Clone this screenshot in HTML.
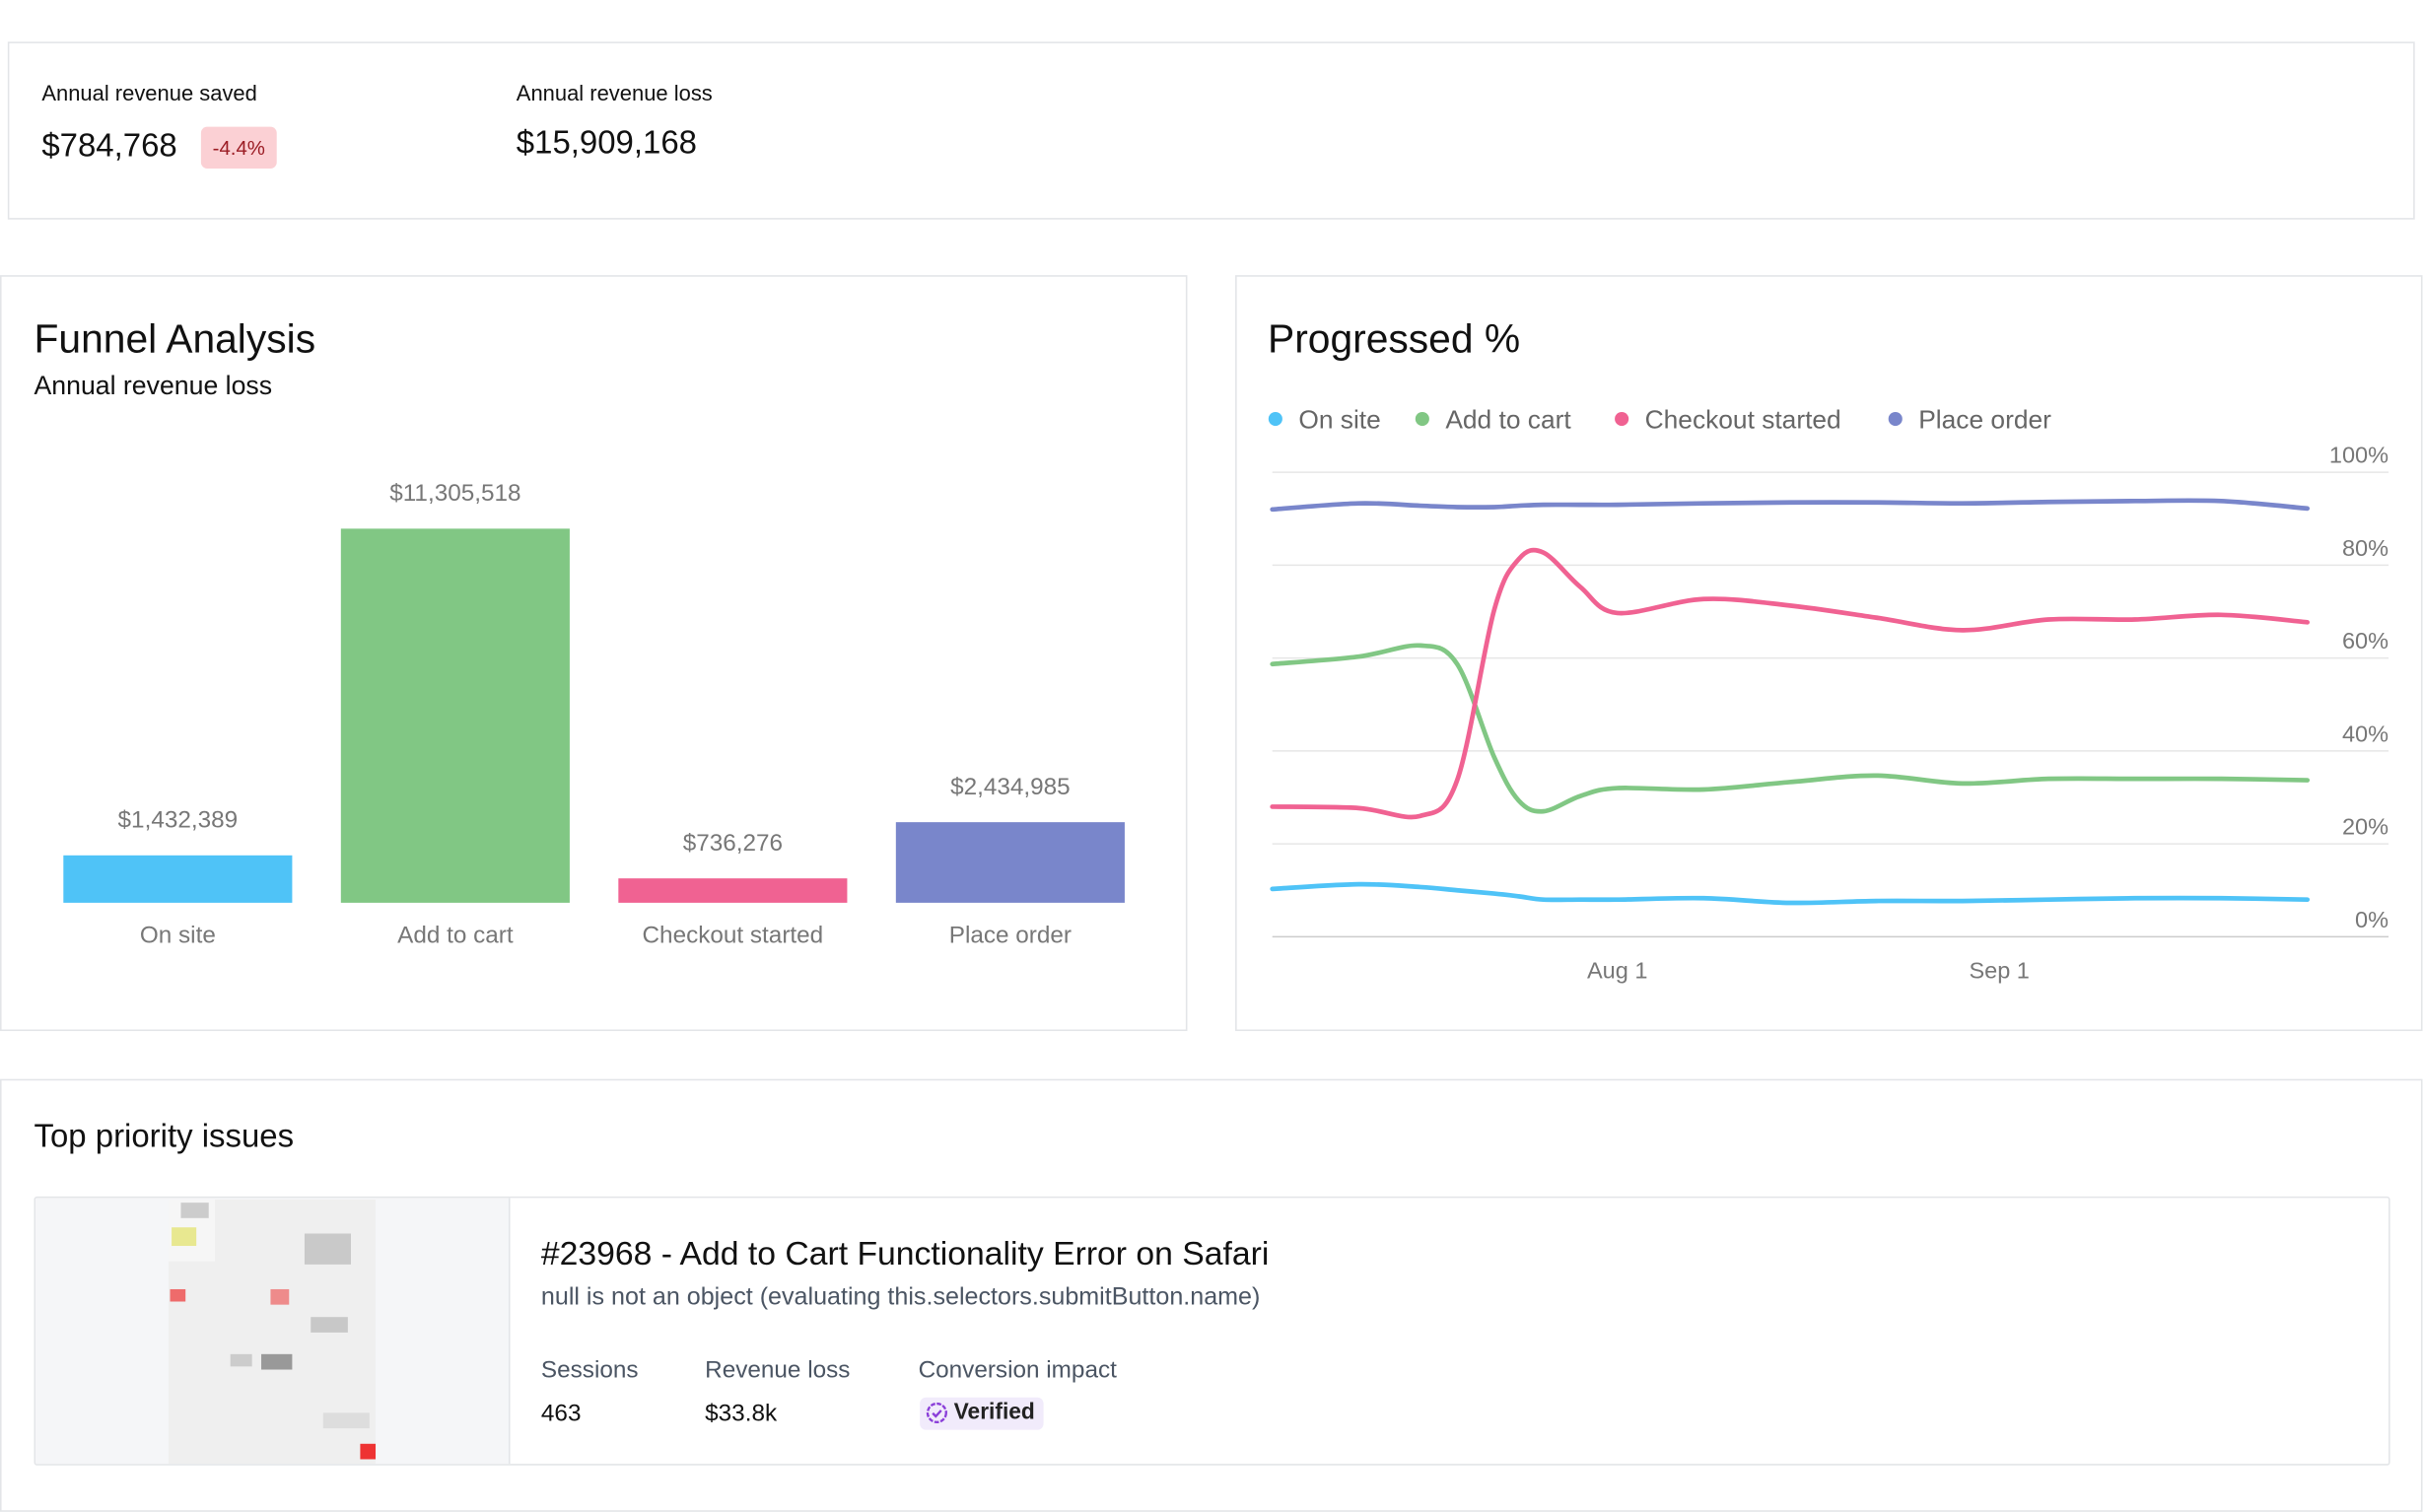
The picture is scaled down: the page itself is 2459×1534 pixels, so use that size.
<!DOCTYPE html>
<html><head><meta charset="utf-8">
<style>
html,body{margin:0;padding:0;background:#fff;overflow:hidden}
body{width:2459px;height:1510px}
#wrap{position:absolute;left:0;top:0;width:1568px;height:963px;transform:scale(1.5683);transform-origin:0 0;font-family:"Liberation Sans",sans-serif;color:#111}
.card{position:absolute;border:1px solid #e3e5e8;background:#fff;box-sizing:border-box}
.abs{position:absolute;white-space:nowrap}
</style></head><body>
<div id="wrap">
 <div class="card" style="left:5px;top:27px;width:1557px;height:115px">
  <div class="abs" style="left:21px;top:24px;font-size:14px">Annual revenue saved</div>
  <div class="abs" style="left:21px;top:55px;font-size:21px">$784,768</div>
  <div class="abs" style="left:124px;top:54px;width:49px;height:27px;background:#fbd0d4;border-radius:4px;color:#9b1c24;font-size:13px;line-height:27px;text-align:center">-4.4%</div>
  <div class="abs" style="left:328px;top:24px;font-size:14px">Annual revenue loss</div>
  <div class="abs" style="left:328px;top:53px;font-size:21px">$15,909,168</div>
 </div>

 <div class="card" style="left:0;top:178px;width:768px;height:489px">
  <div class="abs" style="left:21px;top:25px;font-size:26px">Funnel Analysis</div>
  <div class="abs" style="left:21px;top:61px;font-size:17px">Annual revenue loss</div>
  <svg id="bars" width="768" height="667" style="position:absolute;left:-1px;top:-179px;overflow:visible"></svg>
 </div>

 <div class="card" style="left:799px;top:178px;width:768px;height:489px">
  <div class="abs" style="left:20px;top:25px;font-size:26px">Progressed %</div>
  <svg id="lines" width="768" height="489" style="position:absolute;left:-800px;top:-179px;overflow:visible"></svg>
 </div>

 <div class="card" style="left:0;top:698px;width:1567px;height:280px">
  <div class="abs" style="left:21px;top:25px;font-size:21px">Top priority issues</div>
  <div class="card" style="left:21px;top:75px;width:1524px;height:174px;border-radius:2px;overflow:hidden">
   <div class="abs" style="left:0;top:0;width:306px;height:174px;background:#f5f6f8;border-right:1px solid #e3e5e8">
    <svg width="134" height="172" style="position:absolute;left:86px;top:1px">
     <rect width="134" height="172" fill="#efefef"/>
     <rect x="0" y="0" width="30" height="40" fill="#f6f6f6"/>
     <rect x="8" y="2" width="18" height="10" fill="#ccc"/>
     <rect x="2" y="18" width="16" height="12" fill="#e8e890"/>
     <rect x="88" y="22" width="30" height="20" fill="#c9c9c9"/>
     <rect x="1" y="58" width="10" height="8" fill="#ee6b6b"/>
     <rect x="66" y="58" width="12" height="10" fill="#ee8b8b"/>
     <rect x="92" y="76" width="24" height="10" fill="#c8c8c8"/>
     <rect x="60" y="100" width="20" height="10" fill="#999"/>
     <rect x="40" y="100" width="14" height="8" fill="#ccc"/>
     <rect x="100" y="138" width="30" height="10" fill="#ddd"/>
     <rect x="124" y="158" width="10" height="10" fill="#e33"/>
    </svg>
   </div>
   <div class="abs" style="left:327px;top:24px;font-size:21.5px">#23968 - Add to Cart Functionality Error on Safari</div>
   <div class="abs" style="left:327px;top:56px;font-size:16px;color:#4b5563">null is not an object (evaluating this.selectors.submitButton.name)</div>
   <div class="abs" style="left:327px;top:103px;font-size:15.5px;color:#4b5563">Sessions</div>
   <div class="abs" style="left:327px;top:131px;font-size:15.5px">463</div>
   <div class="abs" style="left:433px;top:103px;font-size:15.5px;color:#4b5563">Revenue loss</div>
   <div class="abs" style="left:433px;top:131px;font-size:15.5px">$33.8k</div>
   <div class="abs" style="left:571px;top:103px;font-size:15.5px;color:#4b5563">Conversion impact</div>
   <div class="abs" style="left:572px;top:129px;height:21px;padding:0 6px 0 22px;background:#f1ebfb;border-radius:4px;font-size:14.5px;line-height:21px;font-weight:bold;color:#222">
    <svg width="14" height="14" style="position:absolute;left:4px;top:3px"><circle cx="7" cy="7" r="6" fill="none" stroke="#8b3fd9" stroke-width="1.5" stroke-dasharray="3 1"/><path d="M4.3 7.2l2 2 3.5-3.8" fill="none" stroke="#8b3fd9" stroke-width="1.5"/></svg>Verified</div>
  </div>
 </div>
</div>
<script>
const NS="http://www.w3.org/2000/svg";
function mk(parent,tag,attrs,text){const e=document.createElementNS(NS,tag);for(const k in attrs)e.setAttribute(k,attrs[k]);if(text!=null)e.textContent=text;parent.appendChild(e);return e;}

// Funnel data
const funnelCategories=["On site","Add to cart","Checkout started","Place order"];
const funnelValues=[1432389,11305518,736276,2434985];
const funnelLabels=["$1,432,389","$11,305,518","$736,276","$2,434,985"];
const funnelColors=["#4fc3f7","#81c784","#f06292","#7986cb"];

// Progressed data (day offsets from Jul 4)
const progDays=[0,7,12,15,18,20,22,25,28,35,42,49,56,63,70,77,84];
const seriesNames=["On site","Add to cart","Checkout started","Place order"];
const onSite=[10.3,11.3,10.7,10,9.3,8.7,8,8,8,8.3,7.3,7.7,7.7,8,8.3,8.3,8];
const addToCart=[58.7,60.3,62.7,58.7,38.7,29.3,27,30.3,32,31.7,33.3,34.7,33,34,34,34,33.7];
const checkoutStarted=[28,27.7,26,33.7,70.3,81.3,82.7,75.3,69.7,72.7,71.3,68.7,66,68.3,68.3,69.3,67.7];
const placeOrder=[92,93.3,92.8,92.5,92.5,92.8,93,93,93,93.3,93.5,93.5,93.3,93.6,93.8,93.8,92.2];
const yTicks=[0,20,40,60,80,100];
const xTickDays=[28,59];
const xTickLabels=["Aug 1","Sep 1"];

// Bars (page coordinates)
const bs=document.getElementById('bars');
const baseY=584, maxVal=11305518, maxH=242;
const yB=v=>baseY-v/maxVal*maxH;
const barX=i=>41+i*179.5;
funnelValues.forEach((v,i)=>{
  const r=mk(bs,'rect',{x:barX(i),y:yB(v),width:148,height:baseY-yB(v),fill:funnelColors[i]});
  
  
  const t=mk(bs,'text',{x:barX(i)+74,y:yB(v)-18,'text-anchor':'middle','font-size':15.5,fill:'#777','font-family':'Liberation Sans'},funnelLabels[i]);
  
  
  const c=mk(bs,'text',{x:barX(i)+74,y:610,'text-anchor':'middle','font-size':15.5,fill:'#777','font-family':'Liberation Sans'},funnelCategories[i]);
  
  
});

// Lines
const ls=document.getElementById('lines');
const xL=d=>823+d*7.97;
const yL=v=>606-v*3.005;
yTicks.forEach(t=>{
  const l=mk(ls,'line',{x1:823,x2:1545,y1:yL(t),y2:yL(t),stroke:t===0?'#ccc':'#e6e6e6','stroke-width':1});
  
  
  const tx=mk(ls,'text',{x:1545,y:yL(t)-6,'text-anchor':'end','font-size':15,fill:'#777','font-family':'Liberation Sans'},t+'%');
  
  
});
xTickDays.forEach((d,i)=>{
  const tx=mk(ls,'text',{x:xL(d),y:633,'text-anchor':'middle','font-size':15,fill:'#777','font-family':'Liberation Sans'},xTickLabels[i]);
  
  
});
function curve(vals){
  const p=vals.map((v,i)=>[xL(progDays[i]),yL(v)]);
  let d='M'+p[0][0]+','+p[0][1];
  for(let i=0;i<p.length-1;i++){
    const p0=p[Math.max(0,i-1)],p1=p[i],p2=p[i+1],p3=p[Math.min(p.length-1,i+2)];
    const c1=[p1[0]+(p2[0]-p0[0])/6,p1[1]+(p2[1]-p0[1])/6];
    const c2=[p2[0]-(p3[0]-p1[0])/6,p2[1]-(p3[1]-p1[1])/6];
    d+=' C'+c1[0]+','+c1[1]+' '+c2[0]+','+c2[1]+' '+p2[0]+','+p2[1];
  }
  return d;
}
const allSeries=[onSite,addToCart,checkoutStarted,placeOrder];
allSeries.forEach((s,i)=>{
  const p=mk(ls,'path',{d:curve(s),fill:'none',stroke:funnelColors[i],'stroke-width':3,'stroke-linecap':'round'});
  
  
});
const legX=[825,920,1049,1226];
seriesNames.forEach((n,i)=>{
  const g=mk(ls,'g',{});
  
  
  mk(g,'circle',{cx:legX[i],cy:271,r:4.5,fill:funnelColors[i]});
  mk(g,'text',{x:legX[i]+15,y:277,'font-size':16.8,fill:'#666','font-family':'Liberation Sans'},n);
});
</script>
</body></html>
